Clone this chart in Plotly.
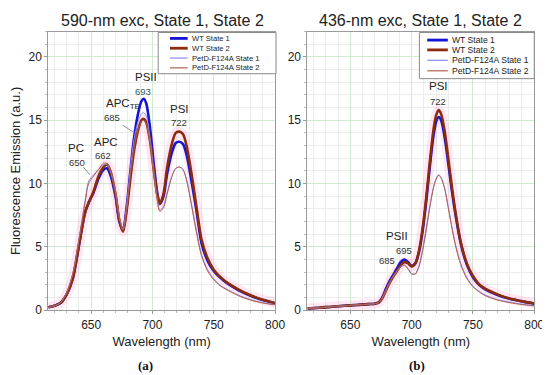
import plotly.graph_objects as go

# ---------------- data: panel (a) 590-nm excitation ----------------
wl_a = [615, 620, 625, 630, 635, 640, 645, 648, 652, 656, 660, 663, 666, 670, 673, 676,
        679, 682, 685, 688, 691, 693, 695, 698, 701, 704, 706, 709, 712, 716, 719, 722,
        725, 728, 732, 736, 740, 745, 750, 755, 760, 770, 780, 790, 800]
a_wt1 = [0.23, 0.35, 0.57, 1.26, 2.5, 5.1, 7.7, 8.5, 9.3, 10.4, 11.1, 11.2, 10.6, 8.9, 7.0, 6.3,
         8.2, 11.0, 13.6, 15.4, 16.5, 16.7, 16.3, 14.4, 11.6, 9.2, 8.4, 9.0, 10.8, 12.5, 13.2, 13.3,
         13.1, 12.2, 10.1, 7.8, 5.3, 3.9, 3.1, 2.6, 2.2, 1.6, 1.15, 0.8, 0.55]
a_wt2 = [0.23, 0.35, 0.57, 1.26, 2.5, 5.1, 7.7, 8.5, 9.4, 10.6, 11.3, 11.5, 10.9, 9.1, 7.1, 6.2,
         7.9, 10.4, 12.6, 14.1, 15.0, 15.1, 14.8, 13.4, 11.1, 9.1, 8.4, 9.2, 11.3, 13.2, 14.0, 14.1,
         13.9, 12.9, 10.7, 8.1, 5.6, 4.1, 3.2, 2.65, 2.25, 1.65, 1.18, 0.82, 0.56]
a_pd1 = [0.23, 0.35, 0.6, 1.4, 2.9, 5.6, 8.6, 10.2, 10.7, 11.1, 11.5, 11.5, 10.9, 9.2, 7.3, 6.4,
         8.3, 11.2, 13.5, 14.8, 15.5, 15.6, 15.3, 13.6, 11.0, 8.7, 7.9, 8.2, 9.3, 10.6, 11.2, 11.3,
         11.1, 10.2, 8.3, 6.2, 4.4, 3.2, 2.5, 2.0, 1.7, 1.2, 0.85, 0.6, 0.45]
a_pd2 = [0.23, 0.35, 0.6, 1.4, 2.9, 5.6, 8.5, 10.0, 10.6, 11.1, 11.6, 11.6, 11.0, 9.3, 7.3, 6.3,
         8.0, 10.7, 12.8, 14.2, 14.9, 15.0, 14.7, 13.2, 10.8, 8.6, 7.8, 8.1, 9.2, 10.6, 11.2, 11.3,
         11.1, 10.2, 8.2, 6.1, 4.3, 3.1, 2.4, 1.95, 1.65, 1.15, 0.8, 0.57, 0.42]

# ---------------- data: panel (b) 436-nm excitation ----------------
wl_b = [615, 625, 635, 645, 655, 665, 670, 673, 676, 679, 682, 685, 688, 691, 694, 697,
        700, 703, 706, 709, 712, 715, 718, 720, 722, 724, 727, 730, 733, 736, 740, 745,
        750, 755, 760, 770, 780, 790, 800]
b_wt1 = [0.15, 0.2, 0.28, 0.35, 0.42, 0.48, 0.52, 0.6, 1.0, 1.7, 2.3, 2.8, 3.3, 3.8, 4.0, 3.8,
         3.5, 3.7, 4.6, 6.3, 8.7, 11.5, 13.9, 14.9, 15.25, 15.0, 13.6, 11.5, 9.3, 7.4, 5.3, 3.6,
         2.6, 2.0, 1.65, 1.2, 0.9, 0.7, 0.52]
b_wt2 = [0.15, 0.2, 0.28, 0.35, 0.42, 0.48, 0.52, 0.6, 0.95, 1.55, 2.15, 2.65, 3.1, 3.55, 3.8, 3.7,
         3.45, 3.7, 4.7, 6.5, 9.0, 11.9, 14.4, 15.4, 15.8, 15.5, 14.1, 11.9, 9.6, 7.6, 5.4, 3.7,
         2.7, 2.05, 1.7, 1.25, 0.92, 0.72, 0.54]
b_pd1 = [0.15, 0.2, 0.28, 0.35, 0.42, 0.48, 0.52, 0.6, 0.95, 1.6, 2.2, 2.7, 3.1, 3.45, 3.6, 3.3,
         2.9, 2.9, 3.5, 4.8, 6.5, 8.3, 9.8, 10.4, 10.7, 10.5, 9.6, 8.1, 6.5, 5.1, 3.7, 2.6,
         1.9, 1.5, 1.2, 0.85, 0.65, 0.48, 0.37]
b_pd2 = [0.15, 0.2, 0.28, 0.35, 0.42, 0.48, 0.52, 0.6, 0.93, 1.55, 2.15, 2.65, 3.05, 3.4, 3.55, 3.25,
         2.85, 2.85, 3.45, 4.75, 6.45, 8.25, 9.75, 10.35, 10.65, 10.45, 9.55, 8.0, 6.4, 5.0, 3.6, 2.5,
         1.85, 1.45, 1.15, 0.8, 0.6, 0.45, 0.34]

series_names = ["WT State 1", "WT State 2", "PetD-F124A State 1", "PetD-F124A State 2"]
series_colors = ["#1414d2", "#8b2d0c", "#8c8cf2", "#b0604c"]
series_widths = [2.6, 2.6, 1.0, 1.0]

x_ticks = [650, 700, 750, 800]
y_ticks = [0, 5, 10, 15, 20]

W, H = 550, 375
FONT = "Arial, Liberation Sans, sans-serif"

fig = go.Figure()

panels = [("x", "y", wl_a, [a_wt1, a_wt2, a_pd1, a_pd2]),
          ("x2", "y2", wl_b, [b_wt1, b_wt2, b_pd1, b_pd2])]

for xa, ya, wl, ser in panels:
    # faint pink highlight beneath curves
    fig.add_trace(go.Scatter(x=wl, y=ser[1], xaxis=xa, yaxis=ya, mode="lines",
                             line=dict(color="rgba(255,150,205,0.22)", width=10, shape="spline"),
                             showlegend=False, hoverinfo="skip"))
    for i in [0, 1, 2, 3]:
        fig.add_trace(go.Scatter(x=wl, y=ser[i], xaxis=xa, yaxis=ya, mode="lines",
                                 name=series_names[i],
                                 line=dict(color=series_colors[i], width=series_widths[i],
                                           shape="spline", smoothing=0.8),
                                 showlegend=False))

def px_x(p):
    return p / W

def px_y(p):
    return 1 - p / H

axis_common = dict(range=[615, 800], tickvals=x_ticks, ticks="outside", ticklen=3,
                   tickcolor="#999", showline=True, linecolor="#9a9a9a", linewidth=1,
                   mirror=True, showgrid=True, gridcolor="#cfeccf", gridwidth=1,
                   zeroline=False, tickfont=dict(size=12, color="#222", family=FONT),
                   minor=dict(dtick=10, showgrid=True, gridcolor="#ececec",
                              ticks="outside", ticklen=2, tickcolor="#bbb"))
yaxis_common = dict(range=[0, 22], tickvals=y_ticks, ticks="outside", ticklen=3,
                    tickcolor="#999", showline=True, linecolor="#9a9a9a", linewidth=1,
                    mirror=True, showgrid=True, gridcolor="#cfeccf", gridwidth=1,
                    zeroline=False, tickfont=dict(size=12, color="#222", family=FONT),
                    minor=dict(dtick=1, showgrid=True, gridcolor="#ececec",
                               ticks="outside", ticklen=2, tickcolor="#bbb"))

ydom = [px_y(308), px_y(24)]
fig.update_layout(
    width=W, height=H, margin=dict(l=0, r=0, t=0, b=0),
    paper_bgcolor="white", plot_bgcolor="white",
    font=dict(family=FONT, color="#222"),
    xaxis=dict(axis_common, domain=[px_x(41), px_x(272)], anchor="y",
               title=dict(text="Wavelength (nm)", font=dict(size=13, color="#222"), standoff=6)),
    yaxis=dict(yaxis_common, domain=ydom, anchor="x",
               title=dict(text="Fluorescence Emission (a.u.)", font=dict(size=13, color="#222"),
                          standoff=6)),
    xaxis2=dict(axis_common, domain=[px_x(305), px_x(536)], anchor="y2",
                title=dict(text="Wavelength (nm)", font=dict(size=13, color="#222"), standoff=6)),
    yaxis2=dict(yaxis_common, domain=ydom, anchor="x2"),
    showlegend=False,
)

ann = []
# panel titles
ann.append(dict(text="590-nm exc, State 1, State 2", x=px_x(157), y=px_y(13), xref="paper",
                yref="paper", showarrow=False, font=dict(size=16, color="#222"), xanchor="center",
                yanchor="middle"))
ann.append(dict(text="436-nm exc, State 1, State 2", x=px_x(420), y=px_y(13), xref="paper",
                yref="paper", showarrow=False, font=dict(size=16, color="#222"), xanchor="center",
                yanchor="middle"))
# sub labels
for t, xp in [("<b>(a)</b>", 140), ("<b>(b)</b>", 417)]:
    ann.append(dict(text=t, x=px_x(xp), y=px_y(364), xref="paper", yref="paper", showarrow=False,
                    font=dict(size=13, color="#111", family="Liberation Serif, Times New Roman, serif"),
                    xanchor="center", yanchor="middle"))

# peak labels (data coordinates)
big = dict(size=11.5, color="#222")
small = dict(size=9.5, color="#333")
peak_labels = [
    ("x", "y", "PSII", 695, 18.45, big),
    ("x", "y", "693", 692.3, 17.3, dict(size=9.5, color="#2b5e5a")),
    ("x", "y", "APC<sub>TE</sub>", 676, 16.3, big),
    ("x", "y", "685", 667.4, 15.2, small),
    ("x", "y", "PSI", 722.3, 15.9, big),
    ("x", "y", "722", 721.5, 14.8, small),
    ("x", "y", "PC", 637.4, 12.8, big),
    ("x", "y", "650", 638.2, 11.7, small),
    ("x", "y", "APC", 662.2, 13.3, big),
    ("x", "y", "662", 659.8, 12.2, small),
    ("x2", "y2", "PSI", 721.5, 17.7, big),
    ("x2", "y2", "722", 721.5, 16.5, small),
    ("x2", "y2", "PSII", 687.9, 5.9, big),
    ("x2", "y2", "695", 693.5, 4.7, small),
    ("x2", "y2", "685", 679.9, 3.9, small),
]
for xr, yr, t, xv, yv, f in peak_labels:
    ann.append(dict(text=t, x=xv, y=yv, xref=xr, yref=yr, showarrow=False, font=f,
                    xanchor="center", yanchor="middle"))

# manual legends
legend_specs = [
    dict(box=(153, 25, 273, 67), x0=165, x1=183, tx=185, rows=[31, 41, 51, 61], fs=7.6),
    dict(box=(419, 25, 536, 72), x0=427, x1=448, tx=450, rows=[32.7, 42.7, 53.3, 64], fs=8.6),
]
shapes = []
for spec in legend_specs:
    bx0, by0, bx1, by1 = spec["box"]
    shapes.append(dict(type="rect", xref="paper", yref="paper", x0=px_x(bx0), x1=px_x(bx1),
                       y0=px_y(by1), y1=px_y(by0), line=dict(color="#8a8a8a", width=1),
                       fillcolor="white", layer="above"))
    for i, ry in enumerate(spec["rows"]):
        shapes.append(dict(type="line", xref="paper", yref="paper", x0=px_x(spec["x0"]),
                           x1=px_x(spec["x1"]), y0=px_y(ry), y1=px_y(ry),
                           line=dict(color=series_colors[i], width=series_widths[i] + 0.2),
                           layer="above"))
        ann.append(dict(text=series_names[i], x=px_x(spec["tx"]), y=px_y(ry), xref="paper",
                        yref="paper", showarrow=False, xanchor="left", yanchor="middle",
                        font=dict(size=spec["fs"], color="#222")))

# leader lines for 685 and 650 in panel (a)
shapes.append(dict(type="line", xref="x", yref="y", x0=675.8, y0=14.6, x1=683.9, y1=14.1,
                   line=dict(color="#777", width=0.8)))
shapes.append(dict(type="line", xref="x", yref="y", x0=643.6, y0=11.3, x1=648.9, y1=10.7,
                   line=dict(color="#777", width=0.8)))

fig.update_layout(annotations=ann, shapes=shapes)
fig.write_html("out.html")
